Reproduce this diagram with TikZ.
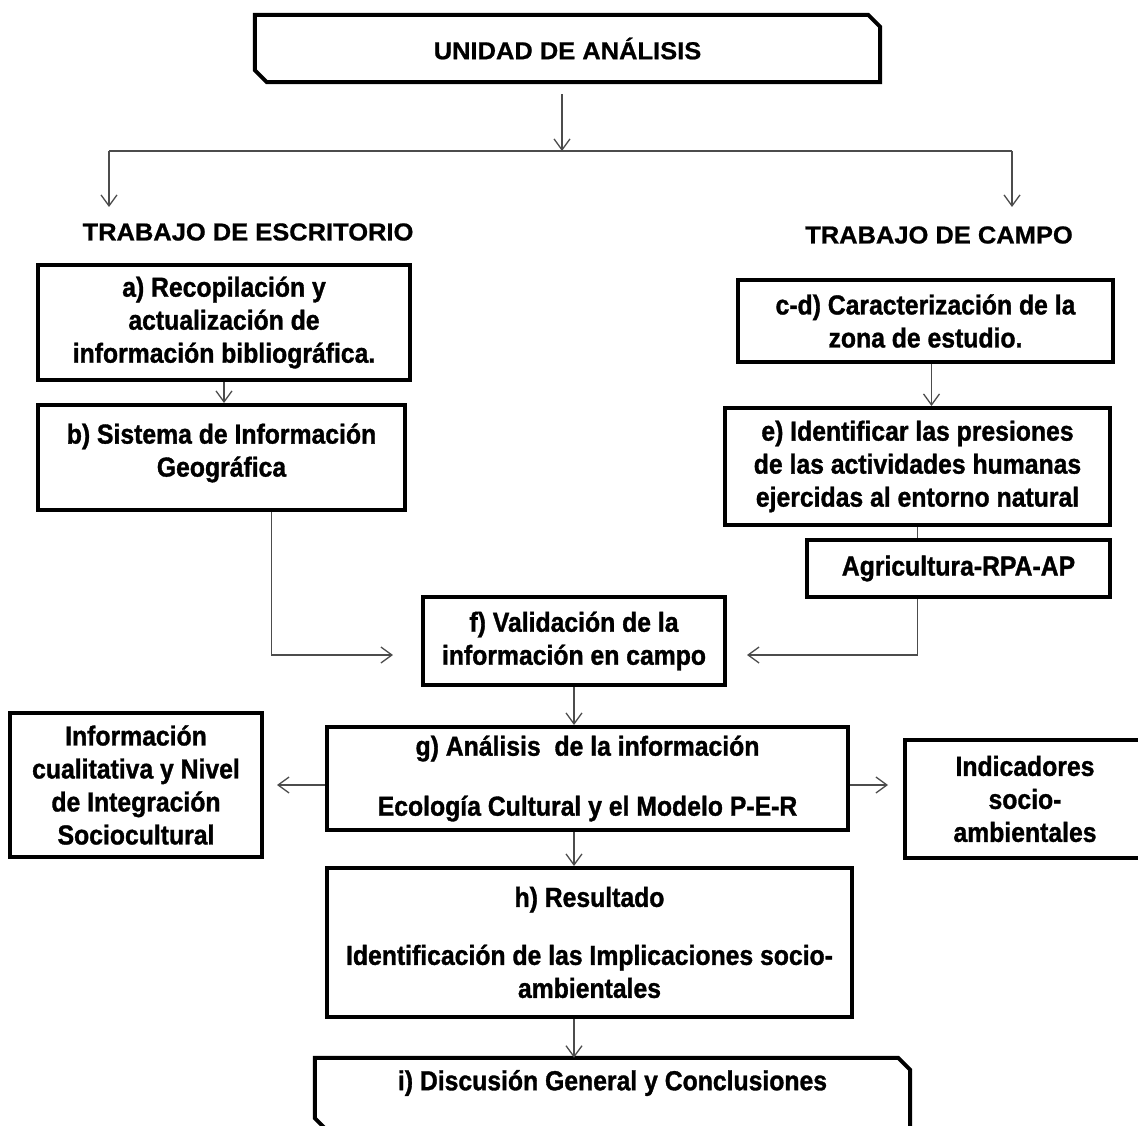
\documentclass[tikz,border=0pt]{standalone}
\usepackage{fontspec}
\setmainfont{Liberation Sans}
\newfontfamily\boxfont{Liberation Sans}[UprightFont=* Bold, FakeStretch=0.9, FakeBold=1.2]
\newfontfamily\headfont{Liberation Sans}[UprightFont=* Bold, FakeStretch=1.04, FakeBold=0.8]
\usetikzlibrary{arrows.meta,calc}
\begin{document}
\begin{tikzpicture}[x=1pt,y=-1pt,
  txt/.style={font=\boxfont\fontsize{27.5}{33}\selectfont},
  box/.style={txt,draw=black,line width=4pt,inner sep=0pt,align=center},
  frame/.style={txt,draw=none,inner sep=0pt,align=center},
  outline/.style={draw=black,line width=4pt},
  conn/.style={line width=1.3pt,draw=black!70},
  arr/.style={conn,-{Straight Barb[length=11pt,width=16pt,line width=1.3pt]}},
  head/.style={font=\headfont\fontsize{24.5}{30}\selectfont,inner sep=0pt}]
\useasboundingbox (0,0) rectangle (1138,1126);
\clip (0,0) rectangle (1138,1126);

% top box
\node[frame,head,minimum width=625pt,minimum height=67pt] (top) at (567.5,48.5) {UNIDAD DE ANÁLISIS};
\draw[outline] (top.north west) -- ([xshift=-12pt]top.north east) -- ([yshift=-12pt]top.north east)
  -- (top.south east) -- ([xshift=12pt]top.south west) -- ([yshift=12pt]top.south west) -- cycle;

\coordinate (J) at (562,151);
\coordinate (JL) at (109,151);
\coordinate (JR) at (1012,151);
\coordinate (TL) at (109,207);
\coordinate (TR) at (1012,207);
\draw[arr,shorten <=12pt] (top.south -| J) -- (J);
\draw[conn] (JL) -- (JR);
\draw[arr] (JL) -- (TL);
\draw[arr] (JR) -- (TR);

\node[head] (hl) at (248,232) {TRABAJO DE ESCRITORIO};
\node[head] (hr) at (939,235) {TRABAJO DE CAMPO};

% left column
\node[box,minimum width=372pt,minimum height=115pt] (a) at (224,322.5)
  {a) Recopilación y\\actualización de\\información bibliográfica.};
\node[box,minimum width=367pt,minimum height=105pt] (b) at (221.5,457.5)
  {\raisebox{4pt}[\height][\depth]{\begin{tabular}{@{}c@{}}b) Sistema de Información\\Geográfica\end{tabular}}};

% right column
\node[box,minimum width=375pt,minimum height=82pt] (cd) at (925.5,321)
  {c-d) Caracterización de la\\zona de estudio.};
\node[box,minimum width=385pt,minimum height=117pt] (e) at (917.5,466.5)
  {e) Identificar las presiones\\de las actividades humanas\\ejercidas al entorno natural};
\node[box,minimum width=303pt,minimum height=57pt] (ag) at (958.5,568.5) {Agricultura-RPA-AP};

% middle
\node[box,minimum width=302pt,minimum height=88pt] (f) at (574,641)
  {f) Validación de la\\información en campo};
\node[box,minimum width=521pt,minimum height=103pt] (g) at (587.5,778.5)
  {g) Análisis\ \ de la información\\[27pt]Ecología Cultural y el Modelo P-E-R};
\node[box,minimum width=252pt,minimum height=144pt] (L) at (136,785)
  {Información\\cualitativa y Nivel\\de Integración\\Sociocultural};
\node[box,minimum width=240pt,minimum height=118pt] (R) at (1025,799)
  {Indicadores\\socio-\\ambientales};
\node[box,minimum width=525pt,minimum height=149pt] (h) at (589.5,942.5)
  {h) Resultado\\[25pt]Identificación de las Implicaciones socio-\\ambientales};

% bottom box
\node[frame,minimum width=595pt,minimum height=72pt] (i) at (612.5,1094)
  {\raisebox{11pt}[\height][\depth]{i) Discusión General y Conclusiones}};
\draw[outline] (i.north west) -- ([xshift=-12pt]i.north east) -- ([yshift=-12pt]i.north east)
  -- (i.south east) -- ([xshift=12pt]i.south west) -- ([yshift=12pt]i.south west) -- cycle;

% connectors
\draw[arr] (a.south) -- (a.south |- b.north);
\draw[arr,shorten >=28pt] ([xshift=50pt]b.south) |- ([yshift=-14pt]f.west);
\draw[arr] ([xshift=6pt]cd.south) -- ([xshift=6pt]cd.south |- e.north);
\draw[conn] (e.south) -- (e.south |- ag.north);
\draw[arr,shorten >=20pt] (e.south |- ag.south) |- ([yshift=-14pt]f.east);
\draw[arr] (f.south) -- (f.south |- g.north);
\draw[arr,shorten >=13pt] (g.west |- L.east) -- (L.east);
\draw[arr,shorten >=15pt] (g.east |- L.east) -- (L.east -| R.west);
\draw[arr] (f.south |- g.south) -- (f.south |- h.north);
\draw[arr] (f.south |- h.south) -- (f.south |- i.north);
\end{tikzpicture}
\end{document}
